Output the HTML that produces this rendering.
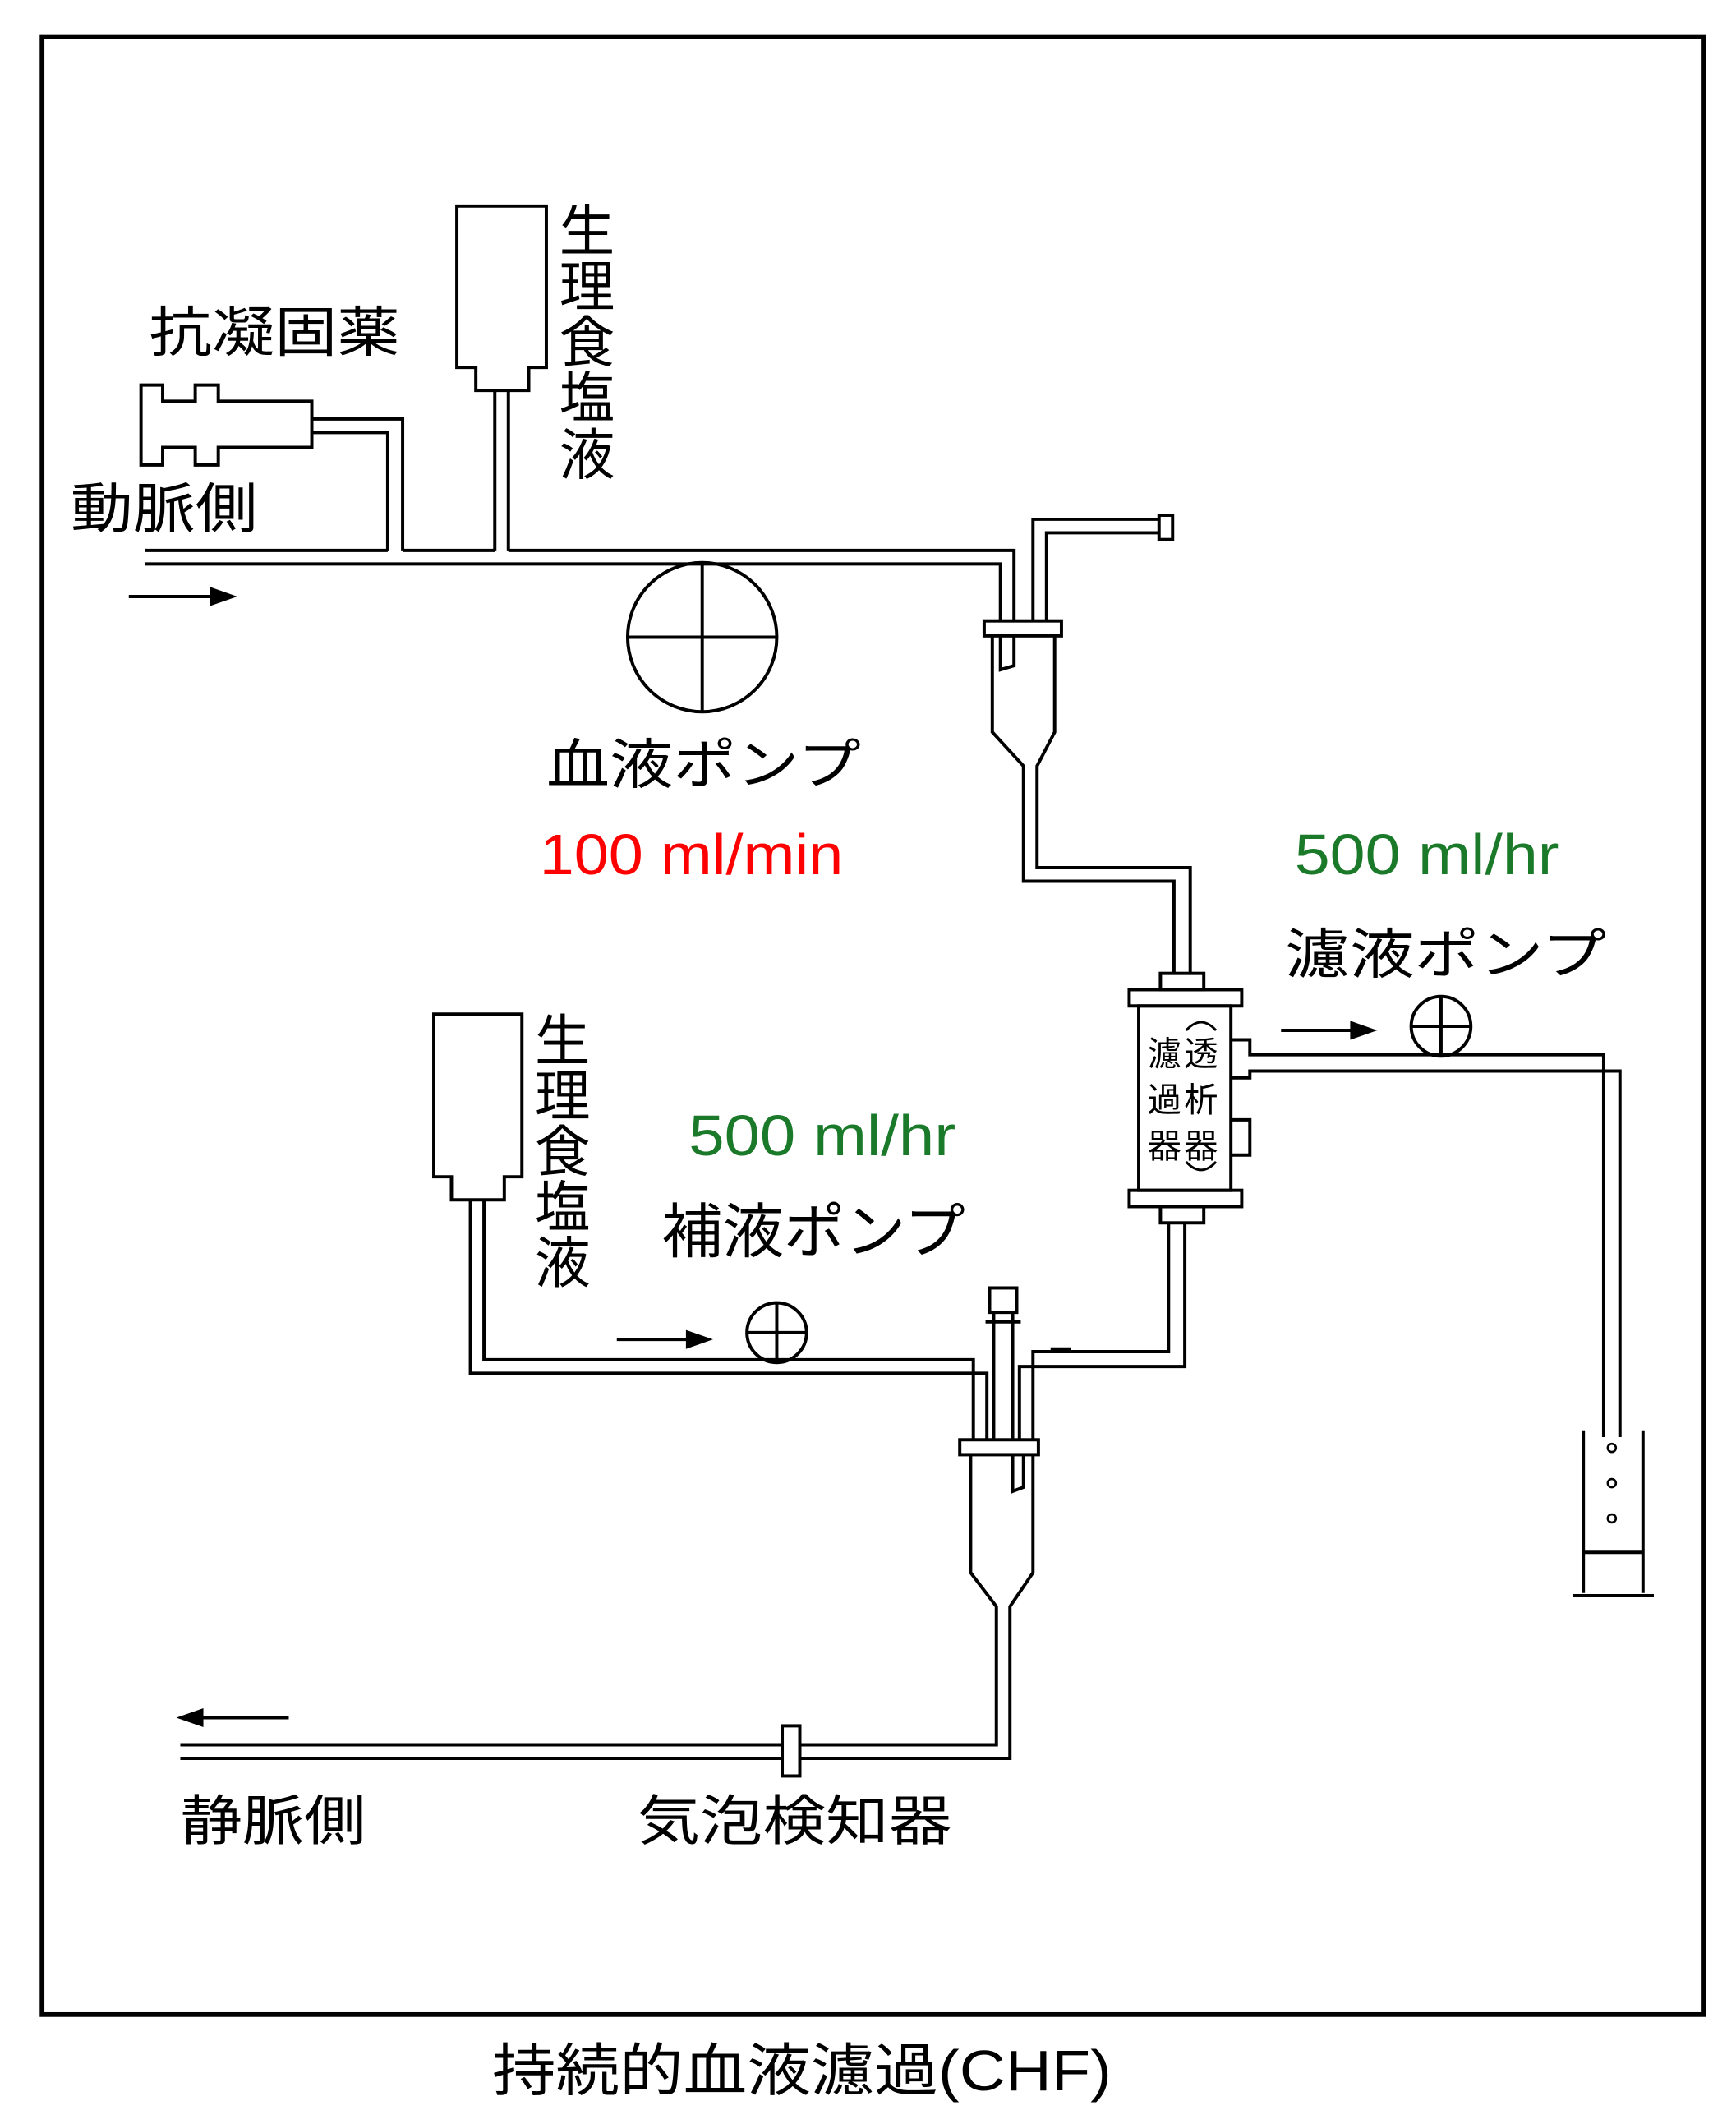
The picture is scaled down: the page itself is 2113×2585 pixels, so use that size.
<!DOCTYPE html>
<html><head><meta charset="utf-8"><style>
html,body{margin:0;padding:0;background:#fff;}
svg{display:block;}
text{font-family:"Liberation Sans","Noto Sans CJK JP",sans-serif;}
</style></head><body>
<svg width="2113" height="2585" viewBox="0 0 1280.6 1566.7" xmlns="http://www.w3.org/2000/svg">
<rect width="1280.6" height="1566.7" fill="#fff"/>
<g fill="none" stroke="#000" stroke-width="2.4">
<rect x="31" y="27" width="1226" height="1459" stroke-width="3.5"/>
<path d="M104 284 H120 V296 H144 V284 H161 V296 H230 V330 H161 V343 H144 V330 H120 V343 H104 Z"/>
<path d="M230 309 H297 V406 M230 319 H286 V406"/>
<path d="M337 152 H403 V271 H390 V288 H351 V271 H337 Z"/>
<path d="M365 288 V406 M375 288 V406"/>
<path d="M107 406 H286 M297 406 H365 M375 406 H748 V458"/>
<path d="M107 416 H738 V458"/>
<circle cx="518" cy="470" r="55"/>
<path d="M463 470 H573 M518 415 V525"/>
<rect x="726" y="458" width="57" height="11"/>
<path d="M732 469 V540 L755 565 V650 H866 V718 M778 469 V540 L765 565 V640 H878 V718"/>
<path d="M738 469 V494 L748 491 V469"/>
<path d="M762 458 V383 H855 M772 458 V393 H855"/>
<rect x="855" y="380" width="10" height="18"/>
<path d="M95 440 H160 M945 760 H1000 M455 988 H510 M213 1267 H145"/>
</g>
<g fill="#000">
<path d="M175 440 L155 433 L155 447 Z"/>
<path d="M1016 760 L996 753 L996 767 Z"/>
<path d="M526 988 L506 981 L506 995 Z"/>
<path d="M130 1267 L150 1260 L150 1274 Z"/>
</g>
<g fill="none" stroke="#000" stroke-width="2.4">
<rect x="856" y="718" width="32" height="12"/>
<rect x="833" y="730" width="83" height="12"/>
<rect x="840" y="742" width="68" height="136"/>
<rect x="833" y="878" width="83" height="12"/>
<rect x="856" y="890" width="32" height="12"/>
<path d="M908 767 H922 V778 H1183 V1060 M908 795 H922 V790 H1195 V1060"/>
<path d="M908 826 H922 V852 H908"/>
<circle cx="1063" cy="757" r="22"/>
<path d="M1041 757 H1085 M1063 735 V778"/>
<path d="M1168 1055 V1175 M1212 1055 V1175 M1168 1145 H1212 M1160 1177 H1220"/>
<path d="M320 748 H385 V868 H372 V885 H333 V868 H320 Z"/>
<path d="M357 885 V1003 H718 V1062 M347 885 V1013 H728 V1062"/>
<circle cx="573" cy="983" r="22"/>
<path d="M551 983 H595 M573 961 V1003"/>
<path d="M862 902 V997 H762 V1062 M874 902 V1008 H752 V1062"/>
<path d="M775 995 H790"/>
<rect x="730" y="950" width="20" height="18"/>
<path d="M727 975 H753"/>
<path d="M733 968 V1062 M747 968 V1062"/>
<rect x="708" y="1062" width="58" height="11"/>
<path d="M716 1073 V1160 L735 1185 V1287 H133 M762 1073 V1160 L745 1185 V1297 H133"/>
<path d="M747 1073 V1100 L755 1097 V1073"/>
<rect x="577" y="1273" width="13" height="37" fill="#fff"/>
</g>
<g fill="none" stroke="#000" stroke-width="1.8">
<path d="M875 760 Q886 748 897 760"/>
<path d="M875 857 Q886 869 897 857"/>
</g>
<g fill="none" stroke="#000" stroke-width="1.6">
<circle cx="1189" cy="1068" r="3"/><circle cx="1189" cy="1094" r="3"/><circle cx="1189" cy="1120" r="3"/>
</g>
<g font-size="40" fill="#000">
<text x="110" y="259" textLength="185" lengthAdjust="spacingAndGlyphs">抗凝固薬</text>
<text x="52" y="389" textLength="138" lengthAdjust="spacingAndGlyphs">動脈側</text>
<text x="403" y="578" textLength="232" lengthAdjust="spacingAndGlyphs">血液ポンプ</text>
<text x="948" y="718" textLength="237" lengthAdjust="spacingAndGlyphs">濾液ポンプ</text>
<text x="488" y="924" font-size="44" textLength="224" lengthAdjust="spacingAndGlyphs">補液ポンプ</text>
<text x="133" y="1357" textLength="137" lengthAdjust="spacingAndGlyphs">静脈側</text>
<text x="470" y="1357" textLength="232" lengthAdjust="spacingAndGlyphs">気泡検知器</text>
<text x="363" y="1542" font-size="42" textLength="457" lengthAdjust="spacingAndGlyphs">持続的血液濾過(CHF)</text>
</g>
<g font-size="41" fill="#000" text-anchor="middle">
<text x="433" y="185">生</text><text x="433" y="226">理</text><text x="433" y="267">食</text><text x="433" y="308">塩</text><text x="433" y="350">液</text>
<text x="415" y="782">生</text><text x="415" y="823">理</text><text x="415" y="864">食</text><text x="415" y="905">塩</text><text x="415" y="946">液</text>
</g>
<g font-size="25" fill="#000" text-anchor="middle">
<text x="886" y="786">透</text><text x="886" y="820">析</text><text x="886" y="854">器</text>
<text x="859" y="786">濾</text><text x="859" y="820">過</text><text x="859" y="854">器</text>
</g>
<text x="398" y="645" font-size="42" fill="#f00" textLength="224" lengthAdjust="spacingAndGlyphs">100 ml/min</text>
<text x="955" y="645" font-size="42" fill="#1a7a2a" textLength="195" lengthAdjust="spacingAndGlyphs">500 ml/hr</text>
<text x="508" y="852" font-size="42" fill="#1a7a2a" textLength="197" lengthAdjust="spacingAndGlyphs">500 ml/hr</text>
</svg>
</body></html>
